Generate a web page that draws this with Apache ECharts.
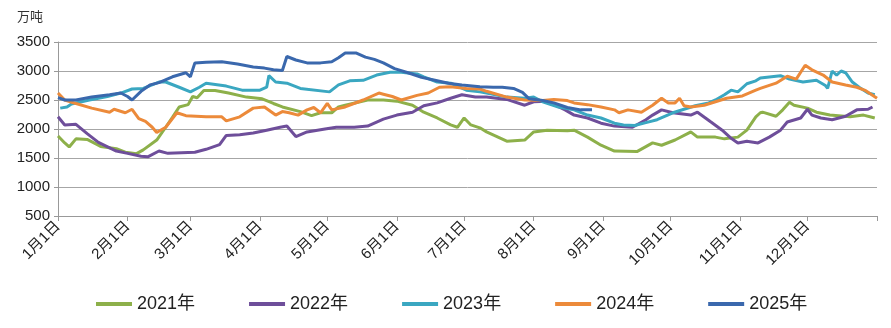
<!DOCTYPE html>
<html><head><meta charset="utf-8">
<script src="https://cdn.jsdelivr.net/npm/echarts@6/dist/echarts.min.js"></script>
<style>html,body{margin:0;padding:0;background:#fff}#c{width:891px;height:328px}</style>
</head><body><div id="c"></div>
<script>
const seriesNames = ['2021年','2022年','2023年','2024年','2025年'];
const monthStarts = [0,31,59,90,120,151,181,212,243,273,304,334];
const monthLabels = ['1月1日','2月1日','3月1日','4月1日','5月1日','6月1日','7月1日','8月1日','9月1日','10月1日','11月1日','12月1日'];
const yTicks = [500,1000,1500,2000,2500,3000,3500];

const days2021 = [0,3,5,8,13,19,26,30,35,38,44,48,51,54,58,60,62,65,70,76,84,91,96,100,108,113,117,122,125,128,138,145,151,158,163,169,175,178,181,184,188,191,200,208,212,218,227,230,236,242,248,258,265,269,275,281,282,285,293,297,303,307,311,313,314,320,323,326,328,334,338,344,353,359,364];
const vals2021 = [1880,1760,1690,1830,1820,1700,1660,1600,1575,1640,1810,2030,2200,2380,2420,2560,2540,2665,2665,2620,2550,2520,2440,2380,2300,2230,2280,2280,2380,2410,2500,2500,2480,2410,2290,2190,2070,2030,2190,2070,2020,1950,1790,1810,1950,1980,1970,1980,1860,1720,1620,1610,1760,1720,1810,1930,1950,1860,1860,1830,1860,1980,2210,2280,2290,2220,2330,2460,2410,2360,2290,2240,2210,2240,2190];

const days2022 = [0,3,8,13,18,26,31,37,40,45,49,55,61,66,72,75,81,87,93,99,102,106,111,119,124,132,138,145,151,158,163,169,175,180,186,191,200,208,212,218,226,230,236,242,248,256,262,265,269,274,282,285,291,296,300,303,307,312,317,322,325,331,334,336,340,345,351,356,361,363];
const vals2022 = [2210,2070,2080,1920,1770,1620,1580,1530,1520,1620,1580,1590,1600,1650,1730,1890,1900,1930,1980,2030,2050,1870,1950,2000,2030,2030,2050,2170,2240,2290,2400,2450,2530,2590,2550,2550,2510,2410,2470,2480,2330,2240,2190,2100,2050,2030,2160,2240,2330,2280,2240,2290,2120,1980,1840,1760,1790,1760,1860,1980,2120,2190,2340,2240,2190,2160,2220,2330,2340,2380];

const days2023 = [1,4,6,14,22,28,33,38,45,48,54,59,63,66,75,82,90,93,94,97,102,108,121,125,130,136,142,148,153,160,163,169,175,182,188,191,200,208,212,216,223,230,236,242,248,252,257,262,267,274,279,284,290,293,297,300,303,307,311,313,322,326,332,338,342,343,345,347,349,351,354,357,361,364];
const vals2023 = [2360,2380,2430,2500,2560,2620,2690,2700,2810,2810,2720,2640,2720,2790,2740,2670,2670,2720,2920,2810,2790,2700,2640,2760,2830,2840,2930,2980,2980,2950,2900,2810,2790,2670,2640,2620,2550,2530,2550,2470,2380,2330,2240,2190,2100,2070,2060,2110,2160,2280,2340,2400,2450,2500,2590,2670,2640,2780,2830,2880,2920,2860,2810,2840,2750,2700,3000,2930,3000,2970,2810,2720,2620,2590];

const days2024 = [0,3,8,15,23,25,30,33,36,39,42,44,48,53,57,66,73,75,81,87,92,97,100,103,107,111,114,117,120,122,128,136,143,145,149,153,160,165,170,175,182,188,191,200,208,216,221,227,230,236,242,248,250,254,260,265,269,272,275,277,279,282,288,293,298,305,311,313,320,325,329,333,336,341,345,351,356,360,365];
const vals2024 = [2620,2500,2440,2360,2290,2340,2280,2340,2180,2130,2030,1940,2030,2280,2230,2210,2210,2140,2210,2360,2380,2240,2300,2280,2240,2330,2370,2280,2440,2330,2380,2500,2620,2600,2560,2500,2580,2620,2720,2730,2700,2690,2650,2550,2500,2490,2510,2490,2450,2420,2380,2330,2280,2330,2290,2410,2530,2450,2450,2530,2400,2380,2410,2470,2530,2570,2670,2700,2790,2910,2860,3100,3020,2930,2810,2760,2720,2660,2530];

const days2025 = [0,3,8,15,23,28,31,33,37,41,45,51,57,59,61,66,73,80,87,92,96,100,102,106,111,117,122,125,128,133,137,141,145,150,156,162,168,174,180,188,194,198,203,207,210,216,221,227,233,238];
const vals2025 = [2540,2500,2500,2550,2590,2620,2560,2500,2650,2760,2800,2900,2970,2900,3140,3150,3160,3120,3070,3050,3020,3010,3250,3190,3140,3140,3160,3230,3310,3310,3240,3200,3140,3040,2970,2890,2840,2790,2760,2730,2720,2720,2700,2630,2520,2490,2450,2370,2330,2330];

const colors = ['#8db04a','#6e4e9a','#3aa7c1','#ec8a3a','#3a68ad'];
const allDays = [days2021,days2022,days2023,days2024,days2025];
const allVals = [vals2021,vals2022,vals2023,vals2024,vals2025];

const chart = echarts.init(document.getElementById('c'), null, {renderer:'canvas'});
const FONT = "'Liberation Sans','Noto Sans CJK SC',sans-serif";
chart.setOption({
  animation:false,
  color: colors,
  grid:{left:58,right:14,top:42,bottom:112,containLabel:false},
  graphic:[{type:'text',left:17,top:11,style:{text:'万吨',fontSize:13,fill:'#333',fontFamily:FONT}}],
  legend:{
    bottom:10,left:91,itemWidth:36,itemHeight:4,itemGap:54,icon:'rect',
    textStyle:{fontSize:18,color:'#222',fontFamily:FONT},
    data:seriesNames
  },
  xAxis:{
    type:'value',min:0,max:365,
    axisLine:{show:true,lineStyle:{color:'#999',width:1}},
    axisTick:{show:true,length:5,lineStyle:{color:'#999'},customValues:monthStarts.concat([365])},
    axisLabel:{rotate:45,fontSize:15,color:'#222',margin:8,fontFamily:FONT,
      customValues:monthStarts,
      formatter:function(v){const i=monthStarts.indexOf(Math.round(v));return i>=0?monthLabels[i]:'';}},
    splitLine:{show:false}
  },
  yAxis:{
    type:'value',min:yTicks[0],max:yTicks[yTicks.length-1],interval:500,
    axisLine:{show:true,lineStyle:{color:'#999'}},
    axisTick:{show:true,length:4,lineStyle:{color:'#999'}},
    axisLabel:{fontSize:15,color:'#222',margin:8,fontFamily:FONT,formatter:function(v){return String(v);}},
    splitLine:{lineStyle:{color:'#a6a6a6',width:1}}
  },
  series: seriesNames.map((n,i)=>({
    name:n,type:'line',showSymbol:false,symbol:'none',
    lineStyle:{width:3,color:colors[i]},
    itemStyle:{color:colors[i]},
    data: allDays[i].map((d,k)=>[d,allVals[i][k]])
  }))
});
</script></body></html>
